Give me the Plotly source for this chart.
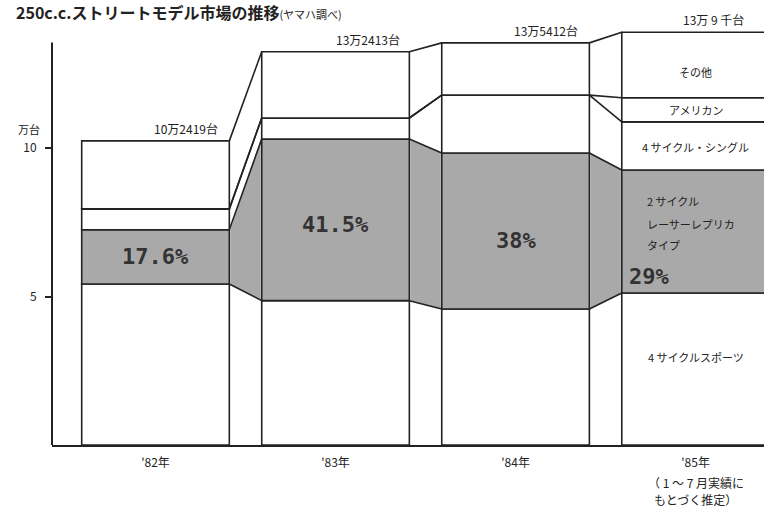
import plotly.graph_objects as go

# ---- data (万台) ----
years = ["'82年", "'83年", "'84年", "'85年"]
totals_label = ["10万2419台", "13万2413台", "13万5412台", "13万 9 千台"]
sports = [5.42, 4.86, 4.58, 5.12]        # 4サイクルスポーツ
two_cycle = [1.83, 5.44, 5.25, 4.14]     # 2サイクル レーサーレプリカタイプ
single = [0.70, 0.71, 1.95, 1.62]        # 4サイクル・シングル
american = [0.0, 0.0, 0.0, 0.81]         # アメリカン
other = [2.29, 2.23, 1.76, 2.21]         # その他
share_label = ["17.6%", "41.5%", "38%", "29%"]

series = [sports, two_cycle, single, american, other]
fills = ["white", "#a9a9a9", "white", "white", "white"]

LINE = "#222222"
W = 0.82
n = len(years)
xs = list(range(n))

# cumulative boundaries
levels = [[0.0] * n]
for s in series:
    levels.append([levels[-1][i] + s[i] for i in range(n)])

fig = go.Figure()

# gap bands (fill only)
eps = 0.005
for k, s in enumerate(series):
    if fills[k] == "white":
        continue
    for i in range(n - 1):
        x0 = i + W / 2 + eps
        x1 = i + 1 - W / 2 - eps
        fig.add_trace(go.Scatter(
            x=[x0, x1, x1, x0, x0],
            y=[levels[k][i], levels[k][i + 1], levels[k + 1][i + 1], levels[k + 1][i], levels[k][i]],
            mode="none", fill="toself", fillcolor=fills[k], hoverinfo="skip", showlegend=False))

# bars
for k, s in enumerate(series):
    fig.add_trace(go.Bar(
        x=xs, y=s, base=levels[k], width=W,
        marker=dict(color=fills[k], line=dict(color=LINE, width=1.6)),
        hoverinfo="skip", showlegend=False))

# gap boundary lines
for k in range(1, len(levels)):
    for i in range(n - 1):
        fig.add_trace(go.Scatter(
            x=[i + W / 2, i + 1 - W / 2],
            y=[levels[k][i], levels[k][i + 1]],
            mode="lines", line=dict(color=LINE, width=1.6),
            hoverinfo="skip", showlegend=False))

JP = "Noto Sans CJK JP"
PCT = "DejaVu Sans Mono"
ann = []
# totals
tot_dx = [0.17, 0.18, 0.17, 0.10]
for i in range(n):
    ann.append(dict(x=i + tot_dx[i], y=levels[-1][i], text=totals_label[i], showarrow=False,
                    yanchor="bottom", yshift=2, font=dict(size=12, family=JP, color="#222")))
# share labels
pct_shift = [0, -5, -9]
for i in range(3):
    mid = levels[1][i] + two_cycle[i] / 2
    ann.append(dict(x=i, y=mid, text="<b>" + share_label[i] + "</b>", showarrow=False,
                    yshift=pct_shift[i], font=dict(size=22, family=PCT, color="#333")))
ann.append(dict(x=2.62, y=levels[1][3] + 0.55, text="<b>" + share_label[3] + "</b>", showarrow=False,
                xanchor="left", font=dict(size=22, family=PCT, color="#333")))
for t, yy in [("2 サイクル", 8.2), ("レーサーレプリカ", 7.43), ("タイプ", 6.72)]:
    ann.append(dict(x=2.72, y=yy, text=t, showarrow=False, xanchor="left",
                    font=dict(size=11, family=JP, color="#222")))
for t, yy in [("その他", 12.56), ("アメリカン", 11.28), ("4 サイクル・シングル", 10.03), ("4 サイクルスポーツ", 2.96)]:
    ann.append(dict(x=3.0, y=yy, text=t, showarrow=False,
                    font=dict(size=11, family=JP, color="#222")))
# '85 note
for t, dy in [("（ 1 ～ 7 月実績に", 37), ("もとづく推定）", 54)]:
    ann.append(dict(x=3.0, y=0, text=t, showarrow=False, yshift=-dy,
                    font=dict(size=12, family=JP, color="#222")))
# unit label
ann.append(dict(xref="paper", x=0, y=10, text="万台", showarrow=False, xanchor="right",
                xshift=-10, yshift=19, font=dict(size=11, family=JP, color="#222")))
# title
ann.append(dict(xref="paper", yref="paper", x=0, y=1, xanchor="left", yanchor="middle",
                xshift=-38, yshift=14, showarrow=False,
                text="<b>250c.c.ストリートモデル市場の推移</b><span style='font-size:11px'>(ヤマハ調べ)</span>",
                font=dict(size=16, family=JP, color="#222")))

fig.update_layout(
    width=764, height=509,
    margin=dict(l=52, r=0, t=26, b=64),
    paper_bgcolor="white", plot_bgcolor="white",
    barmode="overlay", showlegend=False, hovermode=False,
    annotations=ann,
    shapes=[dict(type="line", xref="paper", x0=0, x1=0, yref="y", y0=0, y1=13.55,
                 line=dict(color=LINE, width=2))],
    xaxis=dict(range=[-0.575, 3.38], tickvals=xs, ticktext=years, showline=True,
               linecolor=LINE, linewidth=2, showgrid=False, zeroline=False, ticks="",
               ticklabelstandoff=6,
               tickfont=dict(size=12, family=JP, color="#222")),
    yaxis=dict(range=[0, 14.108], tickvals=[5, 10], ticktext=["5", "10"], ticks="outside",
               ticklen=6, tickwidth=1.5, tickcolor=LINE, showline=False, showgrid=False,
               zeroline=False, ticklabelstandoff=6,
               tickfont=dict(size=12, family=JP, color="#222")),
)

fig.write_html("out.html", config={"displayModeBar": False},
               post_script="document.body.style.margin='0';")
